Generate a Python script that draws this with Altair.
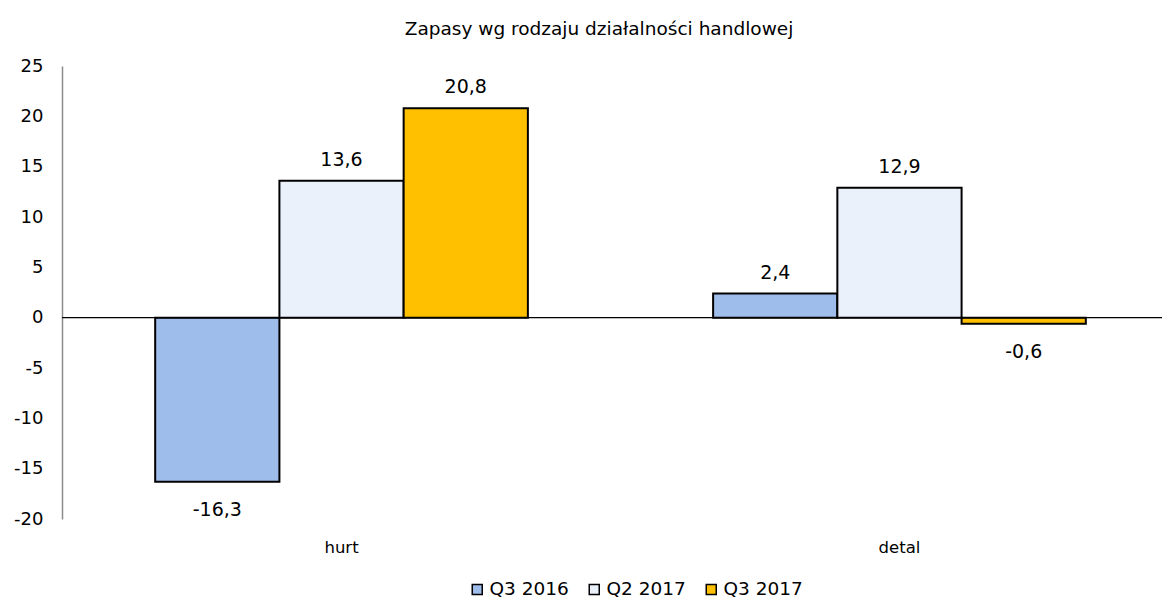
import altair as alt
import pandas as pd

categories = ["hurt", "detal"]
series = ["Q3 2016", "Q2 2017", "Q3 2017"]
values_hurt = [-16.3, 13.6, 20.8]
values_detal = [2.4, 12.9, -0.6]
colors = ["#9FBDEA", "#EBF1FB", "#FFC000"]

rows = []
for cat, vals in zip(categories, [values_hurt, values_detal]):
    for s, v in zip(series, vals):
        rows.append({"kat": cat, "seria": s, "wartosc": v})
df = pd.DataFrame(rows)

FONT = "DejaVu Sans"

x = alt.X("kat:N", sort=categories, title=None,
          scale=alt.Scale(paddingInner=0.332, paddingOuter=0.167, range=[0, 1117]),
          axis=alt.Axis(domain=False, ticks=False, labelAngle=0, labelPadding=20,
                        labelFontSize=16.5, labelFont=FONT, labelColor="#000"))
xo = alt.XOffset("seria:N", sort=series, scale=alt.Scale(paddingInner=0, paddingOuter=0))
y = alt.Y("wartosc:Q", title=None,
          scale=alt.Scale(domain=[-20, 25], nice=False),
          axis=alt.Axis(values=list(range(-20, 30, 5)), grid=False, ticks=False,
                        domainColor="#8c8c8c", domainWidth=1.5, labelPadding=19,
                        labelExpr="replace(datum.label, '\u2212', '-')",
                        labelFontSize=18, labelFont=FONT, labelColor="#000"))

base = alt.Chart(df)

bars = base.mark_bar(stroke="#000", strokeWidth=2).encode(
    x=x, xOffset=xo, y=y,
    fill=alt.Fill("seria:N", sort=series,
                  scale=alt.Scale(domain=series, range=colors),
                  legend=alt.Legend(title=None, orient="none", direction="horizontal",
                                    legendX=406, legendY=514, symbolType="square",
                                    symbolSize=100, symbolStrokeColor="#000",
                                    symbolStrokeWidth=1.5, labelFontSize=18.5,
                                    labelFont=FONT, labelColor="#000",
                                    columnPadding=16, labelOffset=3)),
)

zero = alt.Chart(pd.DataFrame({"z": [0]})).mark_rule(color="#000", strokeWidth=1.2).encode(
    y=alt.Y("z:Q"), x=alt.value(0), x2=alt.value(1109)
)

lab_expr = "replace(replace(format(datum.wartosc, '.1f'), '.', ','), '\u2212', '-')"
pos_text = base.transform_filter("datum.wartosc >= 0").transform_calculate(
    lab=lab_expr
).mark_text(baseline="bottom", dy=-11, fontSize=19, font=FONT, color="#000").encode(
    x=x, xOffset=xo, y=y, text="lab:N"
)
neg_text = base.transform_filter("datum.wartosc < 0").transform_calculate(
    lab=lab_expr
).mark_text(baseline="top", dy=19, fontSize=19, font=FONT, color="#000").encode(
    x=x, xOffset=xo, y=y, text="lab:N"
)

chart = alt.layer(bars, zero, pos_text, neg_text).properties(
    width=1100, height=453,
    title=alt.Title("Zapasy wg rodzaju działalności handlowej", fontSize=18.5,
                    font=FONT, fontWeight="normal", color="#000", offset=19, dx=-13),
    autosize=alt.AutoSizeParams(type="none"),
    padding={"left": 54, "top": 58, "right": 0, "bottom": 84},
).configure_view(stroke=None)

chart.save("out.html", embed_options={"renderer": "svg", "actions": False})
